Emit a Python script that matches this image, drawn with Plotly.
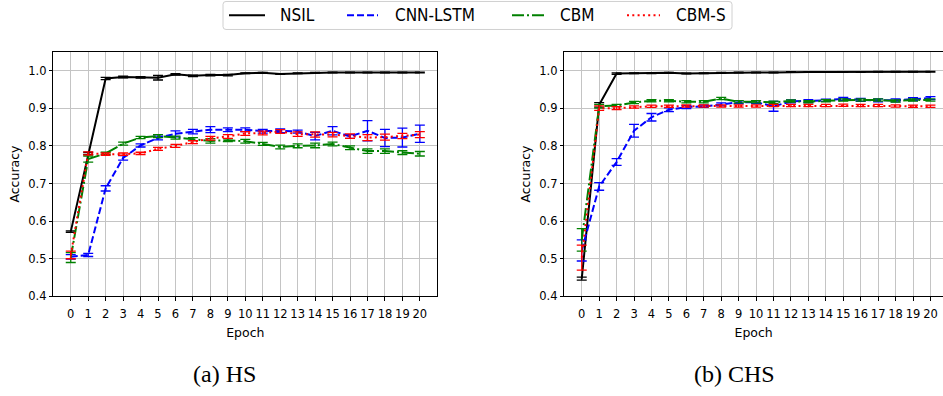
import plotly.graph_objects as go

W, H = 943, 396

epochs = list(range(21))
tick_labels = [str(e) for e in epochs]
y_ticks = [0.4, 0.5, 0.6, 0.7, 0.8, 0.9, 1.0]
series_names = ["NSIL", "CNN-LSTM", "CBM", "CBM-S"]
captions = ["(a) HS", "(b) CHS"]

# ---- HS ----
nsil_hs = [0.572, 0.780, 0.979, 0.983, 0.982, 0.981, 0.990, 0.986, 0.988, 0.988, 0.993,
           0.994, 0.991, 0.993, 0.994, 0.995, 0.995, 0.995, 0.995, 0.995, 0.995]
nsil_hs_err = [0.002, 0.003, 0.003, 0.002, 0.002, 0.006, 0.002, 0.002, 0.002, 0.002, 0.001,
               0.001, 0.001, 0.001, 0.001, 0.001, 0.001, 0.001, 0.001, 0.001, 0.001]
cnn_hs = [0.505, 0.510, 0.687, 0.768, 0.801, 0.821, 0.832, 0.838, 0.843, 0.843, 0.843,
          0.839, 0.840, 0.838, 0.826, 0.840, 0.825, 0.840, 0.821, 0.822, 0.832]
cnn_hs_err = [0.006, 0.004, 0.007, 0.006, 0.004, 0.005, 0.008, 0.006, 0.008, 0.005, 0.005,
              0.005, 0.005, 0.004, 0.010, 0.011, 0.005, 0.027, 0.023, 0.025, 0.023]
cbm_hs = [0.503, 0.765, 0.780, 0.806, 0.822, 0.826, 0.822, 0.818, 0.813, 0.815, 0.812,
          0.805, 0.797, 0.800, 0.801, 0.805, 0.795, 0.786, 0.786, 0.782, 0.779]
cbm_hs_err = [0.013, 0.008, 0.003, 0.004, 0.003, 0.004, 0.004, 0.004, 0.006, 0.004, 0.005,
              0.004, 0.005, 0.005, 0.006, 0.005, 0.005, 0.006, 0.006, 0.005, 0.006]
cbms_hs = [0.510, 0.780, 0.778, 0.778, 0.780, 0.792, 0.800, 0.810, 0.820, 0.825, 0.833,
           0.834, 0.838, 0.831, 0.830, 0.830, 0.826, 0.822, 0.823, 0.826, 0.830]
cbms_hs_err = [0.010, 0.004, 0.003, 0.003, 0.003, 0.004, 0.004, 0.004, 0.005, 0.005, 0.005,
               0.005, 0.005, 0.006, 0.007, 0.006, 0.006, 0.008, 0.008, 0.007, 0.008]

# ---- CHS ----
nsil_chs = [0.447, 0.909, 0.992, 0.993, 0.993, 0.994, 0.992, 0.993, 0.994, 0.995, 0.995,
            0.995, 0.996, 0.996, 0.996, 0.996, 0.996, 0.997, 0.997, 0.997, 0.997]
nsil_chs_err = [0.004, 0.006, 0.002, 0.001, 0.001, 0.001, 0.001, 0.001, 0.001, 0.001, 0.001,
                0.001, 0.001, 0.001, 0.001, 0.001, 0.001, 0.001, 0.001, 0.001, 0.001]
cnn_chs = [0.522, 0.692, 0.757, 0.840, 0.876, 0.896, 0.903, 0.905, 0.910, 0.916, 0.916,
           0.905, 0.918, 0.919, 0.921, 0.925, 0.922, 0.921, 0.921, 0.924, 0.927]
cnn_chs_err = [0.028, 0.010, 0.009, 0.017, 0.010, 0.005, 0.004, 0.003, 0.004, 0.004, 0.004,
               0.013, 0.004, 0.004, 0.003, 0.004, 0.004, 0.004, 0.004, 0.004, 0.004]
cbm_chs = [0.550, 0.905, 0.907, 0.915, 0.920, 0.920, 0.917, 0.917, 0.926, 0.917, 0.917,
           0.916, 0.919, 0.917, 0.920, 0.922, 0.922, 0.922, 0.919, 0.922, 0.922]
cbm_chs_err = [0.030, 0.005, 0.003, 0.003, 0.003, 0.003, 0.003, 0.003, 0.003, 0.003, 0.003,
               0.003, 0.003, 0.003, 0.003, 0.003, 0.003, 0.003, 0.003, 0.003, 0.003]
cbms_chs = [0.503, 0.900, 0.900, 0.903, 0.905, 0.905, 0.906, 0.906, 0.906, 0.906, 0.906,
            0.907, 0.907, 0.907, 0.907, 0.908, 0.907, 0.907, 0.906, 0.905, 0.905]
cbms_chs_err = [0.033, 0.006, 0.004, 0.003, 0.003, 0.003, 0.003, 0.003, 0.003, 0.003, 0.003,
                0.003, 0.003, 0.003, 0.003, 0.003, 0.003, 0.003, 0.003, 0.003, 0.003]

colors = ["#000000", "#0000ff", "#008000", "#ff0000"]
dashes = ["solid", "7px,3px", "12px,3px,2px,3px", "2px,3.3px"]

panels = [
    ([nsil_hs, cnn_hs, cbm_hs, cbms_hs], [nsil_hs_err, cnn_hs_err, cbm_hs_err, cbms_hs_err], "x", "y"),
    ([nsil_chs, cnn_chs, cbm_chs, cbms_chs], [nsil_chs_err, cnn_chs_err, cbm_chs_err, cbms_chs_err], "x2", "y2"),
]

fig = go.Figure()
for vals, errs, xa_, ya_ in panels:
    for name, v, e, c, d in zip(series_names, vals, errs, colors, dashes):
        fig.add_trace(go.Scatter(
            x=epochs, y=v, mode="lines", name=name, showlegend=False,
            line=dict(color=c, width=2, dash=d),
            error_y=dict(type="data", array=e, visible=True, color=c, thickness=1.3, width=5),
            xaxis=xa_, yaxis=ya_,
        ))

tickfont = dict(family="DejaVu Sans", size=11.5, color="#000000")
titlefont = dict(family="DejaVu Sans", size=12.5, color="#000000")
grid = dict(showgrid=True, gridcolor="#c4c4c4", gridwidth=1, zeroline=False)

def xa(domain, rng, mirror):
    return dict(domain=domain, range=rng, tickmode="array", tickvals=epochs, ticktext=tick_labels,
                ticks="outside", ticklen=3.5, tickwidth=1, tickcolor="#000", tickfont=tickfont,
                ticklabelstandoff=3,
                showline=True, linecolor="#000", linewidth=1, mirror=mirror,
                title=dict(text="Epoch", font=titlefont, standoff=8), **grid)

def ya(domain, anchor, mirror):
    return dict(domain=domain, range=[0.4, 1.05], tickmode="array", tickvals=y_ticks,
                ticktext=[f"{t:.1f}" for t in y_ticks], anchor=anchor,
                ticks="outside", ticklen=3.5, tickwidth=1, tickcolor="#000", tickfont=tickfont,
                showline=True, linecolor="#000", linewidth=1, mirror=mirror,
                title=dict(text="Accuracy", font=titlefont, standoff=5), **grid)

ydom = [1 - 301.7 / H, 1 - 52.7 / H]
fig.update_layout(
    width=W, height=H, margin=dict(l=0, r=0, t=0, b=0),
    paper_bgcolor="white", plot_bgcolor="white",
    xaxis=dict(**xa([53.3 / W, 437.3 / W], [-1, 21], True), anchor="y"),
    yaxis=ya(ydom, "x", True),
    xaxis2=dict(**xa([564.3 / W, 1.0], [-1, 20.72], True), anchor="y2"),
    yaxis2=ya(ydom, "x2", False),
    showlegend=False,
)

# Legend (drawn manually to match layout)
def px(x):
    return x / W

def py(y):
    return 1 - y / H

shapes = []
x0, x1, y0, y1, r = 223, 732, 1.5, 30, 3
path = (f"M {px(x0 + r)},{py(y0)} L {px(x1 - r)},{py(y0)} Q {px(x1)},{py(y0)} {px(x1)},{py(y0 + r)} "
        f"L {px(x1)},{py(y1 - r)} Q {px(x1)},{py(y1)} {px(x1 - r)},{py(y1)} "
        f"L {px(x0 + r)},{py(y1)} Q {px(x0)},{py(y1)} {px(x0)},{py(y1 - r)} "
        f"L {px(x0)},{py(y0 + r)} Q {px(x0)},{py(y0)} {px(x0 + r)},{py(y0)} Z")
shapes.append(dict(type="path", xref="paper", yref="paper", path=path,
                   line=dict(color="#d0d0d0", width=1), fillcolor="white"))
leg_line_x = [(229, 265), (347, 378), (512, 545), (627, 660)]
leg_text_x = [278, 393, 558, 674]
annotations = []
for (lx0, lx1), tx, name, c, d in zip(leg_line_x, leg_text_x, series_names, colors, dashes):
    shapes.append(dict(type="line", xref="paper", yref="paper", x0=px(lx0), x1=px(lx1),
                       y0=py(15.5), y1=py(15.5), line=dict(color=c, width=2, dash=d)))
    annotations.append(dict(x=px(tx), y=py(15.5), xref="paper", yref="paper", text=name,
                            showarrow=False, xanchor="left", yanchor="middle",
                            font=dict(family="DejaVu Sans Condensed, DejaVu Sans", size=17, color="#000")))

for cx, txt in zip([224, 734], captions):
    annotations.append(dict(x=px(cx), y=py(381), xref="paper", yref="paper", text=txt,
                            showarrow=False, xanchor="center", yanchor="middle",
                            font=dict(family="Liberation Serif", size=24, color="#000")))

fig.update_layout(shapes=shapes, annotations=annotations)
fig.write_html("out.html")
